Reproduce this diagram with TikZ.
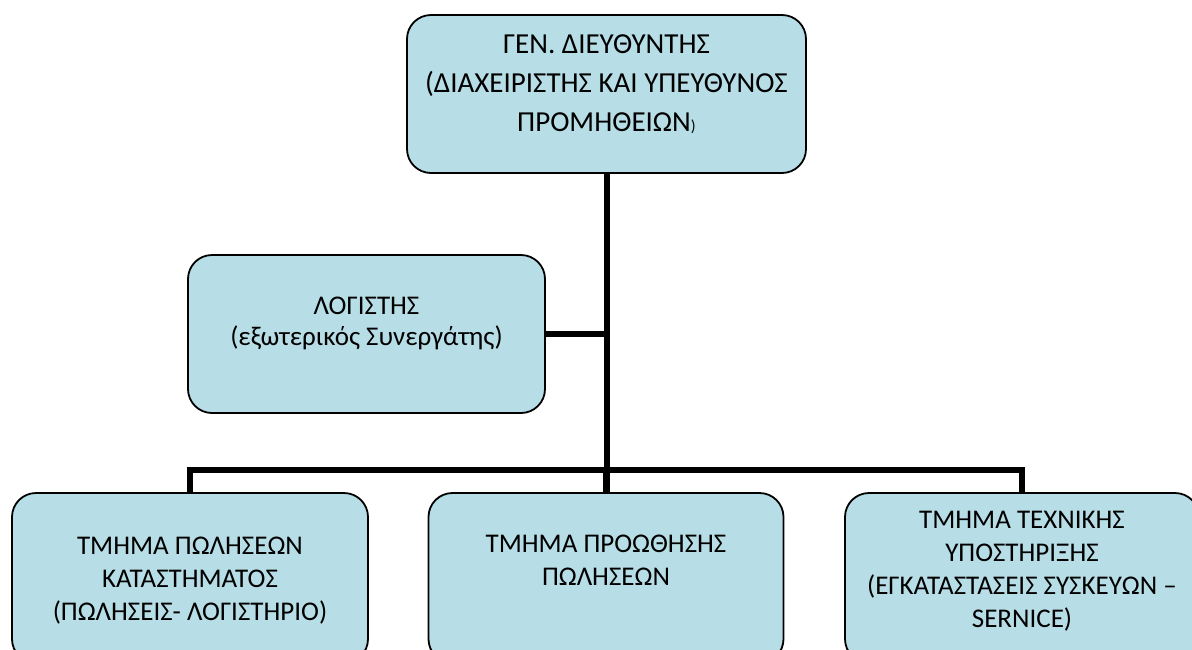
\documentclass[tikz,border=0pt]{standalone}
\usepackage{fontspec}
\setmainfont{Carlito}
\usetikzlibrary{positioning}
\definecolor{boxfill}{RGB}{183,222,230}
\tikzstyle{link} = [line width=6pt]

\begin{document}
\begin{tikzpicture}[x=1pt, y=-1pt,
		unit/.style={
				rectangle,
				draw=black,
				line width=1.8pt,
				rounded corners=24pt,
				fill=boxfill,
				align=center,
				inner xsep=0pt,
				inner ysep=0pt,
				font=\fontsize{27}{33}\selectfont,
			}
	]
	\clip (0,0) rectangle (1192,649);

	% General director
	\node[unit, minimum width=399pt, text height=116pt, text depth=42pt,
		font=\fontsize{29}{39}\selectfont] (director) at (606.5,94) {
		ΓΕΝ. ΔΙΕΥΘΥΝΤΗΣ \\
		(ΔΙΑΧΕΙΡΙΣΤΗΣ ΚΑΙ ΥΠΕΥΘΥΝΟΣ \\
		ΠΡΟΜΗΘΕΙΩΝ{\fontsize{16}{16}\selectfont)}
	};

	% Accountant
	\node[unit, minimum width=357pt, text height=90pt, text depth=68pt,
		font=\fontsize{27}{31}\selectfont] (accountant) at (366.5,334) {
		ΛΟΓΙΣΤΗΣ \\
		(εξωτερικός Συνεργάτης)
	};

	% Sales department
	\node[unit, minimum width=356pt, text height=127pt, text depth=43pt] (sales) at (190,578) {
		ΤΜΗΜΑ ΠΩΛΗΣΕΩΝ \\
		ΚΑΤΑΣΤΗΜΑΤΟΣ \\
		(ΠΩΛΗΣΕΙΣ- ΛΟΓΙΣΤΗΡΙΟ)
	};

	% Promotion department
	\node[unit, minimum width=355pt, text height=92pt, text depth=78pt] (promotion) at (606,578) {
		ΤΜΗΜΑ ΠΡΟΩΘΗΣΗΣ \\
		ΠΩΛΗΣΕΩΝ
	};

	% Technical support department
	\node[unit, minimum width=354pt, text height=134pt, text depth=36pt] (support) at (1022,578) {
		ΤΜΗΜΑ ΤΕΧΝΙΚΗΣ \\
		ΥΠΟΣΤΗΡΙΞΗΣ \\
		(ΕΓΚΑΤΑΣΤΑΣΕΙΣ ΣΥΣΚΕΥΩΝ – \\
		SERNICE)
	};

	% Connections
	\coordinate (bar) at (606,470);
	\draw[link] (director.south) -- (director.south |- promotion.north);
	\draw[link] (accountant.east) -- (accountant.east -| director.south);
	\draw[link] (sales.north) |- (bar) -| (support.north);
	\draw[link] (bar) -- (promotion.north);

\end{tikzpicture}
\end{document}
